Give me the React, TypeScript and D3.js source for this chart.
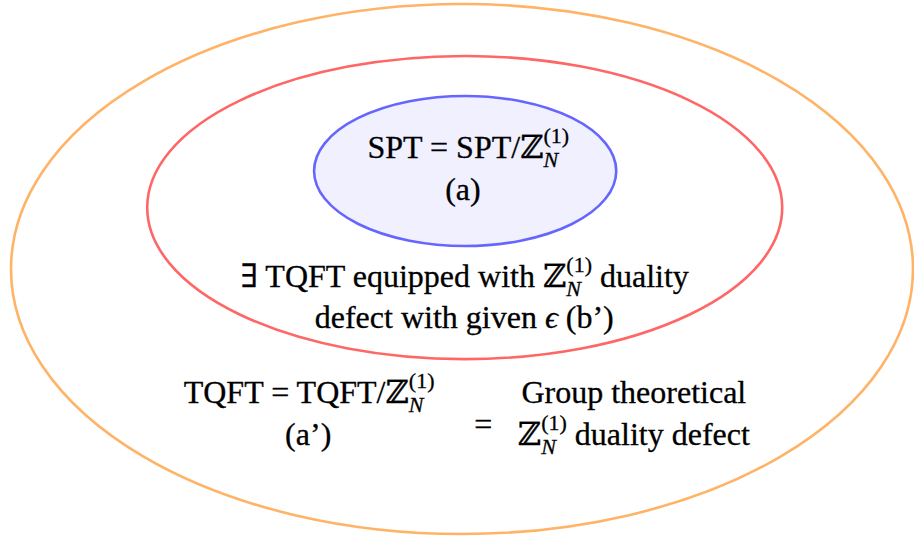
import React, { useEffect, useRef } from 'react';
import * as d3 from 'd3';

// ellipses, outer to inner, in unit coords of the diagram (-1..1)
const ellipseNames = ['tqftDefect', 'existsTqft', 'spt'];
const ellipseCx = [0, 0.006, 0.007];
const ellipseCy = [0, -0.232, -0.37];
const ellipseRx = [1, 0.704, 0.335];
const ellipseRy = [1, 0.572, 0.283];
const ellipseStroke = ['#ffb366', '#ff6666', '#6666ff'];
const ellipseFill = ['none', 'none', '#f0f0ff'];

const zN = { sup: '(1)', sub: 'N' };

// label lines: segments, centre x and baseline y in unit coords
const labelLines = [
  [{ t: 'SPT = SPT/ℤ' }, zN],
  [{ t: '(a)' }],
  [{ t: '∃ TQFT equipped with ℤ' }, zN, { t: ' duality' }],
  [{ t: 'defect with given ' }, { t: 'ϵ', it: true }, { t: ' (b’)' }],
  [{ t: 'TQFT = TQFT/ℤ' }, zN],
  [{ t: '(a’)' }],
  [{ t: '=' }],
  [{ t: 'Group theoretical' }],
  [{ t: 'ℤ' }, zN, { t: ' duality defect' }],
];
const labelX = [0.014, 0.002, 0.006, 0.005, -0.339, -0.341, 0.047, 0.381, 0.381];
const labelY = [-0.419, -0.26, 0.067, 0.222, 0.506, 0.664, 0.626, 0.506, 0.664];

const W = 914;
const H = 537;
const FONT = "'Liberation Serif', 'Times New Roman', Tinos, 'DejaVu Serif', serif";
const SIZE = 32;
const SCRIPT = 22;

export default function App() {
  const ref = useRef<SVGSVGElement>(null);

  useEffect(() => {
    const svg = d3.select(ref.current);
    svg.selectAll('*').remove();

    const x = d3.scaleLinear().domain([-1, 1]).range([11, 913]);
    const y = d3.scaleLinear().domain([-1, 1]).range([4, 534]);
    const kx = (x(1) - x(-1)) / 2;
    const ky = (y(1) - y(-1)) / 2;

    svg.selectAll('ellipse')
      .data(ellipseNames)
      .enter()
      .append('ellipse')
      .attr('cx', (d, i) => x(ellipseCx[i]))
      .attr('cy', (d, i) => y(ellipseCy[i]))
      .attr('rx', (d, i) => ellipseRx[i] * kx)
      .attr('ry', (d, i) => ellipseRy[i] * ky)
      .attr('fill', (d, i) => ellipseFill[i])
      .attr('stroke', (d, i) => ellipseStroke[i])
      .attr('stroke-width', 2.6);

    labelLines.forEach((segs: any[], li) => {
      const g = svg.append('g')
        .style('font-family', FONT)
        .attr('fill', '#000')
        .attr('stroke', '#000')
        .attr('stroke-width', 0.3);
      const base = y(labelY[li]);
      let pos = 0;
      segs.forEach(seg => {
        if (seg.sup) {
          const sup = g.append('text')
            .attr('x', pos).attr('y', base - 15)
            .style('font-size', SCRIPT + 'px')
            .text(seg.sup);
          const sub = g.append('text')
            .attr('x', pos).attr('y', base + 9)
            .style('font-size', SCRIPT + 'px')
            .style('font-style', 'italic')
            .text(seg.sub);
          pos += Math.max(
            (sup.node() as SVGTextElement).getComputedTextLength(),
            (sub.node() as SVGTextElement).getComputedTextLength()
          );
        } else {
          const el = g.append('text')
            .attr('x', pos).attr('y', base)
            .style('font-size', SIZE + 'px')
            .style('font-style', seg.it ? 'italic' : 'normal')
            .style('white-space', 'pre')
            .text(seg.t);
          pos += (el.node() as SVGTextElement).getComputedTextLength();
        }
      });
      g.attr('transform', `translate(${x(labelX[li]) - pos / 2},0)`);
    });
  }, []);

  return (
    <svg
      ref={ref}
      width={W}
      height={H}
      style={{ position: 'absolute', left: 0, top: 0, background: '#fff' }}
    />
  );
}
